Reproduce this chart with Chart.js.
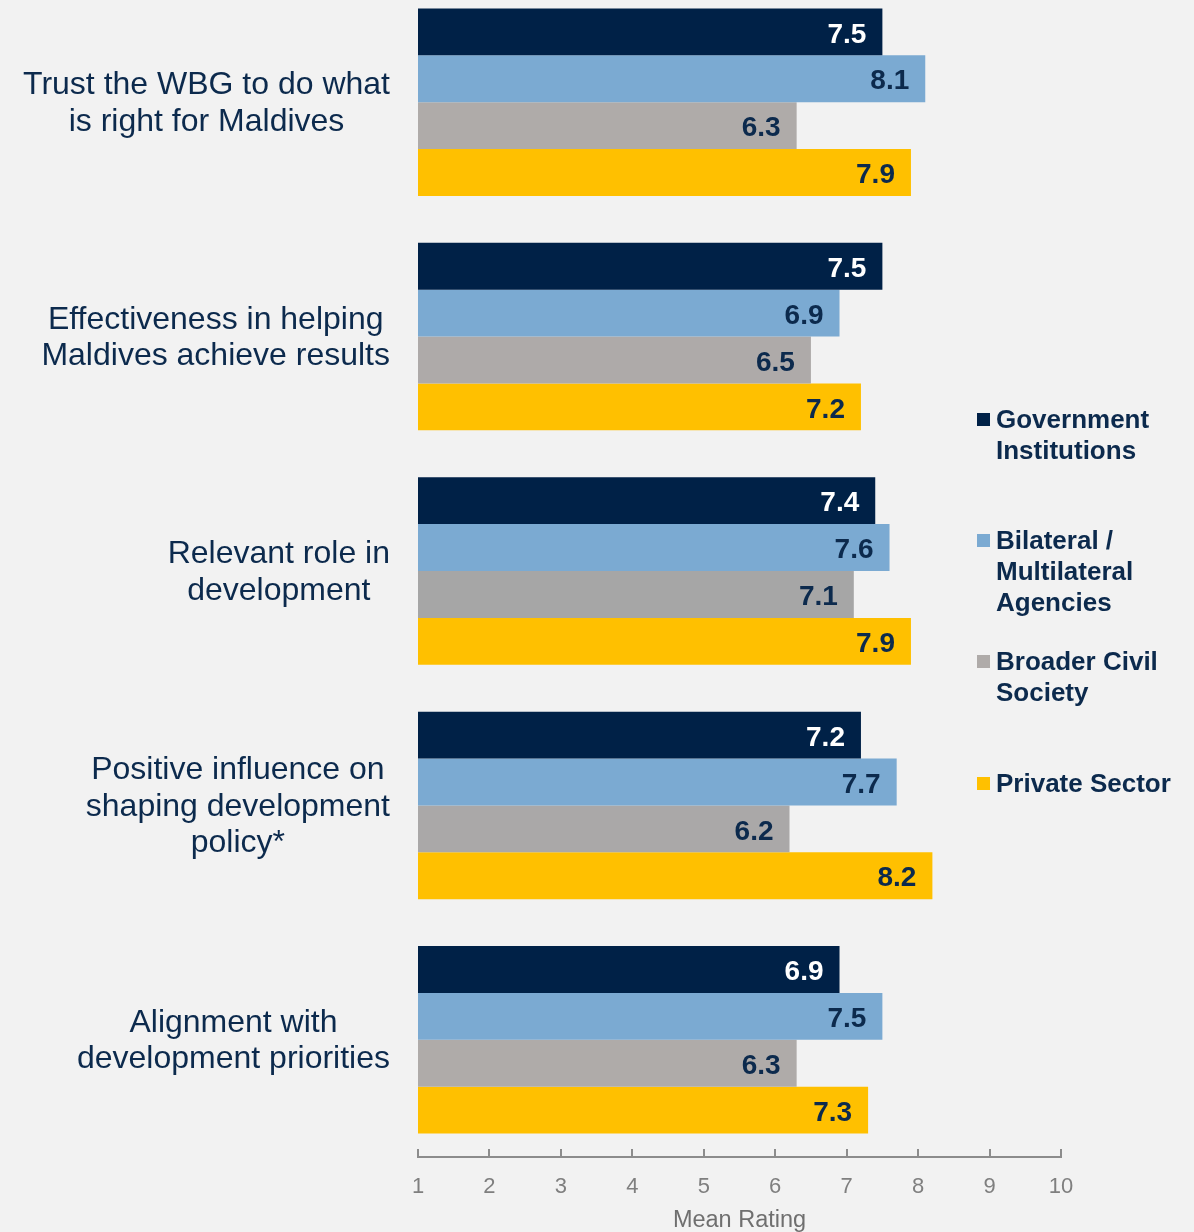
<!DOCTYPE html>
<html>
<head>
<meta charset="utf-8">
<script src="https://cdn.jsdelivr.net/npm/chart.js@4/dist/chart.umd.min.js"></script>
<style>
  html, body { margin: 0; padding: 0; background: #f2f2f2; overflow: hidden; }
  #wrap { position: absolute; left: 0; top: -15px; width: 1194px; height: 1250px; }
</style>
</head>
<body>
<div id="wrap"><canvas id="grafico"></canvas></div>
<script>
// categorias (cada una partida en lineas) y valores por grupo
const categorias = [
  ['Trust the WBG to do what', 'is right for Maldives'],
  ['Effectiveness in helping', 'Maldives achieve results'],
  ['Relevant role in', 'development'],
  ['Positive influence on', 'shaping development', 'policy*'],
  ['Alignment with', 'development priorities']
];
const gobierno = [7.5, 7.5, 7.4, 7.2, 6.9];
const bilateral = [8.1, 6.9, 7.6, 7.7, 7.5];
const sociedadCivil = [6.3, 6.5, 7.1, 6.2, 6.3];
const privado = [7.9, 7.2, 7.9, 8.2, 7.3];
const ticksX = [1, 2, 3, 4, 5, 6, 7, 8, 9, 10];
const leyenda = [
  ['Government', 'Institutions'],
  ['Bilateral /', 'Multilateral', 'Agencies'],
  ['Broader Civil', 'Society'],
  ['Private Sector']
];

const azulOscuro = '#002147';
const textoAzul = '#0c2a4d';

// dibuja etiquetas de categoria, valores, marcas del eje y leyenda
const extras = {
  id: 'extras',
  afterDatasetsDraw(chart) {
    const ctx = chart.ctx;
    ctx.save();
    // valores dentro de la barra
    ctx.font = 'bold 28px "Liberation Sans", Arial, sans-serif';
    ctx.textAlign = 'right';
    ctx.textBaseline = 'middle';
    chart.data.datasets.forEach((ds, i) => {
      chart.getDatasetMeta(i).data.forEach((bar, j) => {
        ctx.fillStyle = i === 0 ? '#ffffff' : textoAzul;
        ctx.fillText(ds.data[j].toFixed(1), bar.x - 16, bar.y + 3);
      });
    });
    ctx.restore();
  },
  afterDraw(chart) {
    const ctx = chart.ctx;
    const yEje = chart.scales.y;
    const xEje = chart.scales.x;
    ctx.save();

    // etiquetas de categoria: bloque centrado, alineado a la derecha
    ctx.font = '32px "Liberation Sans", Arial, sans-serif';
    ctx.fillStyle = textoAzul;
    ctx.textAlign = 'center';
    ctx.textBaseline = 'middle';
    categorias.forEach((lineas, i) => {
      const anchos = lineas.map(l => ctx.measureText(l).width);
      const cx = 390 - Math.max(...anchos) / 2;
      const cy = yEje.getPixelForValue(i) + 1.5;
      const alto = 36.5;
      lineas.forEach((l, k) => {
        ctx.fillText(l, cx, cy + (k - (lineas.length - 1) / 2) * alto);
      });
    });

    // marcas del eje x hacia arriba
    ctx.strokeStyle = '#8c8c8c';
    ctx.lineWidth = 2;
    ticksX.forEach(v => {
      const x = Math.round(xEje.getPixelForValue(v));
      ctx.beginPath();
      ctx.moveTo(x, xEje.top - 8);
      ctx.lineTo(x, xEje.top);
      ctx.stroke();
    });

    // leyenda
    ctx.font = 'bold 26px "Liberation Sans", Arial, sans-serif';
    ctx.textAlign = 'left';
    const arriba = [436, 557, 678, 800];
    chart.data.datasets.forEach((ds, i) => {
      const y0 = arriba[i];
      ctx.fillStyle = Array.isArray(ds.backgroundColor) ? ds.backgroundColor[0] : ds.backgroundColor;
      ctx.fillRect(977, y0 - 8, 13, 13);
      ctx.fillStyle = textoAzul;
      leyenda[i].forEach((l, k) => ctx.fillText(l, 996, y0 + k * 31));
    });
    ctx.restore();
  }
};

new Chart(document.getElementById('grafico'), {
  type: 'bar',
  data: {
    labels: categorias.map(c => c.join(' ')),
    datasets: [
      { label: 'Government Institutions', data: gobierno, backgroundColor: azulOscuro },
      { label: 'Bilateral / Multilateral Agencies', data: bilateral, backgroundColor: '#7baad2' },
      { label: 'Broader Civil Society', data: sociedadCivil,
        backgroundColor: ['#afaba9', '#aeaaa9', '#a6a6a6', '#aaa8a8', '#afaba9'] },
      { label: 'Private Sector', data: privado, backgroundColor: '#ffc000' }
    ]
  },
  options: {
    indexAxis: 'y',
    responsive: true,
    maintainAspectRatio: false,
    animation: false,
    events: [],
    layout: { padding: { left: 418, right: 133, top: 0, bottom: 0 } },
    datasets: { bar: { categoryPercentage: 0.8, barPercentage: 1.0 } },
    plugins: { legend: { display: false }, tooltip: { enabled: false } },
    scales: {
      y: { display: false },
      x: {
        min: 1,
        max: 10,
        grid: { display: false, drawTicks: false },
        border: { display: true, color: '#8c8c8c', width: 2 },
        ticks: {
          stepSize: 1,
          padding: 17,
          color: '#7f7f7f',
          font: { family: '"Liberation Sans", Arial, sans-serif', size: 22 }
        },
        title: {
          display: true,
          text: 'Mean Rating',
          color: '#6f6f6f',
          padding: { top: 0, bottom: 0 },
          font: { family: '"Liberation Sans", Arial, sans-serif', size: 23.5 }
        },
        afterFit(s) { s.height = 78; }
      }
    }
  },
  plugins: [extras]
});
</script>
</body>
</html>
